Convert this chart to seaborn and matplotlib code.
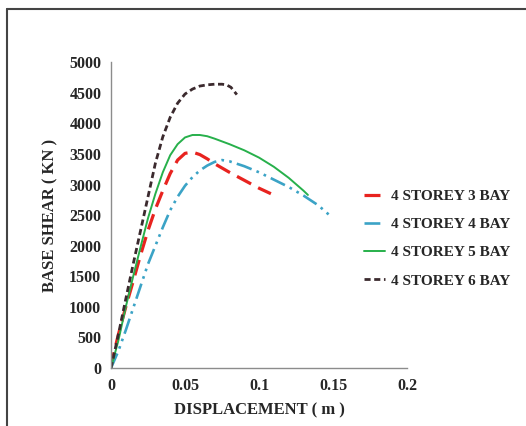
import numpy as np
import pandas as pd
import seaborn as sns
import matplotlib
matplotlib.use("Agg")
import matplotlib.pyplot as plt
from matplotlib.lines import Line2D

# ---- data ----
labels = ["4 STOREY 3 BAY", "4 STOREY 4 BAY", "4 STOREY 5 BAY", "4 STOREY 6 BAY"]

x_3bay = [0, 0.002, 0.005, 0.01, 0.015, 0.02, 0.025, 0.03, 0.035, 0.04, 0.045, 0.05,
          0.055, 0.06, 0.065, 0.07, 0.08, 0.09, 0.1, 0.108]
y_3bay = [0, 250, 550, 1000, 1420, 1850, 2250, 2600, 2900, 3180, 3400, 3510,
          3530, 3490, 3420, 3340, 3200, 3070, 2940, 2850]

x_4bay = [0, 0.005, 0.01, 0.015, 0.02, 0.025, 0.03, 0.035, 0.04, 0.045, 0.05, 0.055,
          0.06, 0.065, 0.07, 0.075, 0.08, 0.09, 0.1, 0.11, 0.12, 0.13, 0.14, 0.148]
y_4bay = [0, 280, 620, 980, 1340, 1700, 2000, 2300, 2580, 2800, 2980, 3120,
          3230, 3310, 3370, 3400, 3380, 3300, 3200, 3080, 2960, 2820, 2660, 2490]

x_5bay = [0, 0.005, 0.01, 0.015, 0.02, 0.025, 0.03, 0.035, 0.04, 0.045, 0.05, 0.055,
          0.06, 0.065, 0.07, 0.08, 0.09, 0.1, 0.11, 0.12, 0.13, 0.133]
y_5bay = [0, 450, 1000, 1500, 1980, 2450, 2850, 3200, 3480, 3660, 3770, 3810,
          3810, 3790, 3750, 3660, 3560, 3440, 3290, 3110, 2900, 2830]

x_6bay = [0, 0.005, 0.01, 0.015, 0.02, 0.025, 0.03, 0.035, 0.04, 0.045, 0.05, 0.055,
          0.06, 0.065, 0.07, 0.075, 0.078, 0.081, 0.083, 0.085]
y_6bay = [0, 550, 1130, 1700, 2250, 2800, 3350, 3780, 4100, 4330, 4480, 4560,
          4610, 4630, 4640, 4640, 4630, 4590, 4530, 4470]

x_ticks = [0, 0.05, 0.1, 0.15, 0.2]
x_tick_labels = ["0", "0.05", "0.1", "0.15", "0.2"]
y_ticks = list(range(0, 5001, 500))

colors = {labels[0]: "#e8231f", labels[1]: "#3ba3c6", labels[2]: "#27b04b", labels[3]: "#3b2a2e"}
dashes = {labels[0]: (5, 2.5), labels[1]: (6, 2, 1, 2, 1, 2), labels[2]: "", labels[3]: (2.2, 1.3)}
widths = {labels[0]: 2.3, labels[1]: 1.9, labels[2]: 1.4, labels[3]: 2.0}

frames = []
for lab, xs, ys in zip(labels, [x_3bay, x_4bay, x_5bay, x_6bay], [y_3bay, y_4bay, y_5bay, y_6bay]):
    frames.append(pd.DataFrame({"disp": xs, "shear": ys, "series": lab}))
df = pd.concat(frames, ignore_index=True)

sns.set_style("white")
plt.rcParams["font.family"] = ["Liberation Serif", "DejaVu Serif"]
plt.rcParams["font.weight"] = "bold"

fig = plt.figure(figsize=(5.26, 4.26), dpi=100)
ax = fig.add_axes([0.211, 0.136, 0.563, 0.718])

for lab in labels:
    sub = df[df["series"] == lab]
    sns.lineplot(data=sub, x="disp", y="shear", ax=ax, color=colors[lab],
                 linewidth=widths[lab], sort=False, estimator=None, legend=False)
    line = ax.lines[-1]
    if dashes[lab] != "":
        line.set_dashes(dashes[lab])

ax.set_xlim(0, 0.2)
ax.set_ylim(0, 5000)
ax.set_xticks(x_ticks)
ax.set_xticklabels(x_tick_labels)
ax.set_yticks(y_ticks)
for s in ["top", "right"]:
    ax.spines[s].set_visible(False)
for s in ["left", "bottom"]:
    ax.spines[s].set_color("#8c8c8c")
    ax.spines[s].set_linewidth(1.0)
ax.tick_params(axis="both", direction="out", length=4, width=1, color="#8c8c8c",
               labelsize=11.5, pad=3)
for t in ax.get_xticklabels() + ax.get_yticklabels():
    t.set_fontweight("bold")
ax.set_xlabel("DISPLACEMENT ( m )", fontsize=12, fontweight="bold", labelpad=6)
ax.set_ylabel("BASE SHEAR ( KN )", fontsize=12, fontweight="bold", labelpad=8)

handles = []
for lab in labels:
    h = Line2D([], [], color=colors[lab], linewidth=widths[lab])
    if dashes[lab] != "":
        h.set_dashes(dashes[lab])
    handles.append(h)
fig.legend(handles, labels, loc="upper left", bbox_to_anchor=(0.666, 0.588),
           frameon=False, prop={"weight": "bold", "size": 11},
           handlelength=1.4, handletextpad=0.35, labelspacing=0.95)

# outer frame lines (top and left)
fig.add_artist(Line2D([0.013, 1.0], [0.979, 0.979], color="#444444", linewidth=1.5,
                      transform=fig.transFigure))
fig.add_artist(Line2D([0.013, 0.013], [0.0, 0.979], color="#444444", linewidth=1.5,
                      transform=fig.transFigure))

fig.savefig("out.png", dpi=100)
